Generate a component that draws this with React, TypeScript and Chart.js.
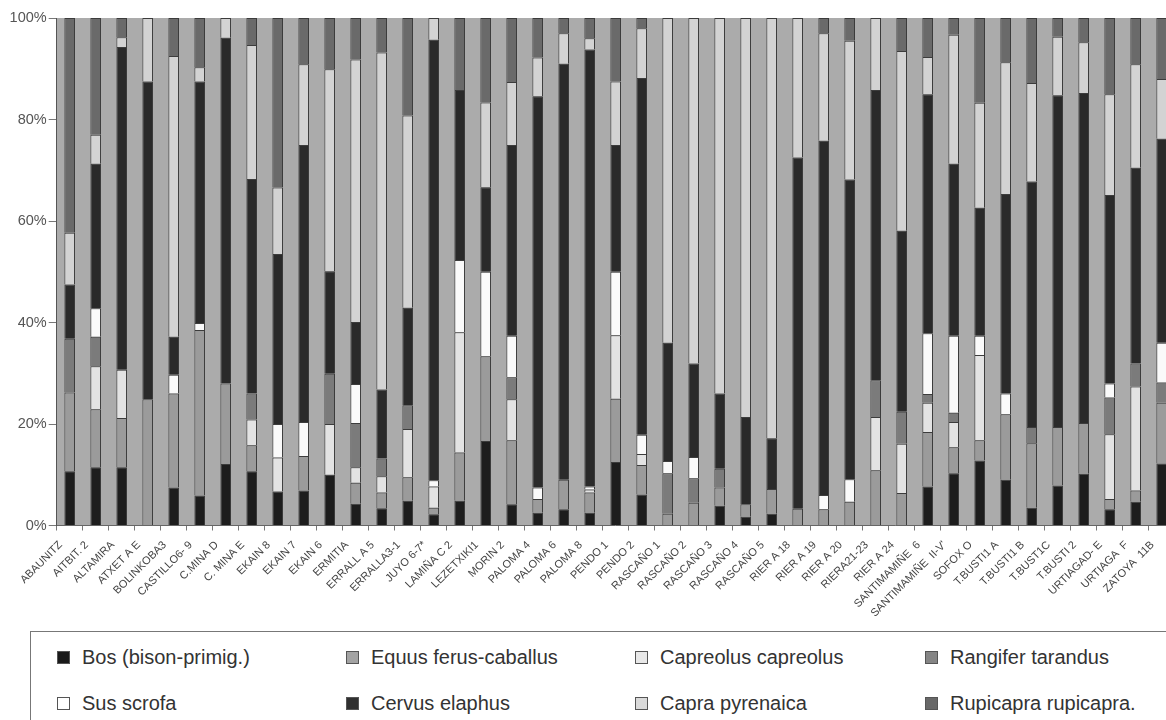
import { useEffect, useRef } from 'react';
import { Chart, registerables } from 'chart.js';

Chart.register(...registerables);

const FONT = "'Liberation Sans', Arial, Helvetica, sans-serif";

const categories = [
  'ABAUNITZ', 'AITBIT. 2', 'ALTAMIRA', 'ATXET A E', 'BOLINKOBA3', 'CASTILLO6- 9', 'C.MINA D', 'C. MINA E',
  'EKAIN 8', 'EKAIN 7', 'EKAIN 6', 'ERMITIA', 'ERRALL A 5', 'ERRALLA3-1', 'JUYO 6-7*', 'LAMIÑA C 2',
  'LEZETXIKI1', 'MORIN 2', 'PALOMA 4', 'PALOMA 6', 'PALOMA 8', 'PENDO 1', 'PENDO 2', 'RASCAÑO 1',
  'RASCAÑO 2', 'RASCAÑO 3', 'RASCAÑO 4', 'RASCAÑO 5', 'RIER A 18', 'RIER A 19', 'RIER A 20', 'RIERA21-23',
  'RIER A 24', 'SANTIMAMIÑE  6', "SANTIMAMIÑE  II-V'", 'SOFOX O', 'T.BUSTI1 A', 'T.BUSTI1 B', 'T.BUST1C',
  'T.BUSTI 2', 'URTIAGAD- E', 'URTIAGA  F', 'ZATOYA  11B',
];

const bos = [10.7, 11.5, 11.5, 0, 7.5, 5.9, 12.1, 10.7, 6.7, 6.9, 10.0, 4.3, 3.4, 4.9, 2.2, 4.9, 16.7, 4.2, 2.5, 3.2, 2.5, 12.5, 6.1, 0, 0, 3.9, 1.7, 2.3, 0, 0, 0, 0, 0, 7.7, 10.3, 12.8, 9.0, 3.5, 7.9, 10.2, 3.2, 4.7, 12.2];
const equus = [15.5, 11.4, 9.7, 24.9, 18.5, 32.6, 15.9, 5.1, 0, 6.8, 0, 4.1, 3.1, 4.6, 1.3, 9.5, 16.7, 12.6, 2.7, 5.8, 4.0, 12.5, 5.8, 2.3, 4.5, 3.6, 2.5, 4.9, 3.3, 3.2, 4.7, 10.9, 6.4, 10.7, 5.1, 4.0, 12.9, 12.7, 11.5, 10.0, 2.0, 2.2, 12.0];
const capreolus = [0, 8.5, 9.5, 0, 0, 0, 0, 5.1, 6.7, 0, 10.0, 3.1, 3.2, 9.5, 4.2, 23.7, 0, 8.1, 0, 0, 0.6, 12.5, 2.2, 0, 0, 0, 0, 0, 0, 0, 0, 10.5, 9.7, 5.8, 5.0, 16.8, 0, 0, 0, 0, 12.8, 20.5, 0];
const rangifer = [10.6, 5.8, 0, 0, 0, 0, 0, 5.1, 0, 0, 9.9, 8.7, 3.5, 4.7, 0, 0, 0, 4.3, 0, 0, 0, 0, 0, 8.0, 4.8, 3.7, 0, 0, 0, 0, 0, 7.2, 6.3, 1.7, 1.8, 0, 0, 3.2, 0, 0, 7.2, 4.5, 4.0];
const sus = [0, 5.6, 0, 0, 3.7, 1.4, 0, 0, 6.6, 6.7, 0, 7.7, 0, 0, 1.2, 14.2, 16.7, 8.2, 2.3, 0, 0.6, 12.5, 3.8, 2.4, 4.2, 0, 0, 0, 0, 2.8, 4.4, 0, 0, 12.0, 15.2, 3.8, 4.1, 0, 0, 0, 2.8, 0, 7.8];
const cervus = [10.7, 28.5, 63.6, 62.6, 7.5, 47.6, 68.1, 42.3, 33.5, 54.6, 20.2, 12.2, 13.6, 19.2, 86.8, 33.5, 16.7, 37.6, 77.1, 82.0, 86.0, 25.0, 70.3, 23.3, 18.4, 14.8, 17.2, 10.0, 69.2, 69.8, 59.1, 57.2, 35.7, 47.1, 33.9, 25.2, 39.3, 48.4, 65.4, 65.0, 37.1, 38.6, 40.2];
const capra = [10.2, 5.7, 1.9, 12.5, 55.3, 2.8, 3.9, 26.4, 13.1, 15.9, 39.8, 51.7, 66.4, 37.9, 4.3, 0, 16.7, 12.4, 7.6, 6.0, 2.2, 12.5, 9.8, 64.0, 68.1, 74.0, 78.6, 82.8, 27.5, 21.2, 27.3, 14.2, 35.4, 7.3, 25.4, 20.7, 26.0, 19.4, 11.5, 10.0, 19.9, 20.4, 11.8];
const rupicapra = [42.3, 23.0, 3.8, 0, 7.5, 9.7, 0, 5.3, 33.4, 9.1, 10.1, 8.2, 6.8, 19.2, 0, 14.2, 16.7, 12.6, 7.8, 3.0, 4.0, 12.5, 2.0, 0, 0, 0, 0, 0, 0, 3.0, 4.5, 0, 6.5, 7.7, 3.3, 16.7, 8.7, 12.8, 3.7, 4.8, 15.0, 9.1, 12.0];

const seriesNames = [
  'Bos (bison-primig.)', 'Equus ferus-caballus', 'Capreolus capreolus', 'Rangifer tarandus',
  'Sus scrofa', 'Cervus elaphus', 'Capra pyrenaica', 'Rupicapra rupicapra.',
];
const barColors = ['#1d1d1d', '#9b9b9b', '#e3e3e3', '#7b7b7b', '#fafafa', '#2a2a2a', '#d3d3d3', '#6a6a6a'];
const swatchColors = ['#1a1a1a', '#a3a3a3', '#e8e8e8', '#858585', '#ffffff', '#303030', '#dadada', '#686868'];
const yTickValues = [0, 20, 40, 60, 80, 100];

const legendCols = [57, 346, 635, 925];
const legendRows = [657, 703];

export default function App() {
  const ref = useRef<HTMLCanvasElement>(null);

  useEffect(() => {
    if (!ref.current) return;
    const raw = [bos, equus, capreolus, rangifer, sus, cervus, capra, rupicapra];
    const totals = categories.map((_, i) => raw.reduce((s, a) => s + a[i], 0));
    const datasets = raw.map((arr, k) => ({
      label: seriesNames[k],
      data: arr.map((v, i) => (v / totals[i]) * 100),
      backgroundColor: barColors[k],
      borderColor: '#3c3c3c',
      borderWidth: 1,
      barPercentage: 0.41,
      categoryPercentage: 1,
    }));

    const plotBg = {
      id: 'plotBg',
      beforeDraw(chart: any) {
        const { ctx, chartArea: a } = chart;
        ctx.save();
        ctx.fillStyle = '#ababab';
        ctx.fillRect(a.left, a.top, a.right - a.left, a.bottom - a.top);
        ctx.restore();
      },
    };

    const chart = new Chart(ref.current, {
      type: 'bar',
      data: { labels: categories, datasets },
      plugins: [plotBg],
      options: {
        animation: false,
        responsive: true,
        maintainAspectRatio: false,
        layout: { padding: { top: 18, left: 0, right: 0, bottom: 0 } },
        plugins: { legend: { display: false }, tooltip: { enabled: false } },
        scales: {
          x: {
            stacked: true,
            grid: { display: true, drawOnChartArea: false, drawTicks: true, tickLength: 5, color: '#777', offset: true },
            border: { display: true, color: '#666', width: 1 },
            ticks: {
              autoSkip: false,
              maxRotation: 45,
              minRotation: 45,
              color: '#444',
              padding: 8,
              labelOffset: -9,
              font: { family: FONT, size: 11 },
            },
            afterFit: (s: any) => { s.height = 100.5; },
          },
          y: {
            stacked: true,
            min: 0,
            max: 100,
            afterBuildTicks: (s: any) => { s.ticks = yTickValues.map((v) => ({ value: v })); },
            ticks: {
              color: '#555',
              padding: 2,
              font: { family: FONT, size: 14.5 },
              callback: (v: any) => `${v}%`,
            },
            grid: { display: true, drawOnChartArea: false, drawTicks: true, tickLength: 8, color: '#777' },
            border: { display: true, color: '#555', dash: [2, 1] },
            afterFit: (s: any) => { s.width = 56.7; },
          },
        },
      },
    });
    return () => chart.destroy();
  }, []);

  return (
    <div style={{ position: 'fixed', left: 0, top: 0, width: 1166, height: 720, overflow: 'hidden', background: '#fff', fontFamily: FONT }}>
      <div style={{ position: 'absolute', left: 0, top: 0, width: 1179, height: 626 }}>
        <canvas ref={ref} />
      </div>
      <div style={{ position: 'absolute', left: 30, top: 631, width: 1200, height: 160, border: '1px solid #777', boxSizing: 'border-box' }} />
      {seriesNames.map((name, k) => {
        const col = k % 4;
        const row = Math.floor(k / 4);
        const x = legendCols[col];
        const y = legendRows[row];
        return (
          <div key={name}>
            <div style={{ position: 'absolute', left: x, top: y - 6.5, width: 13, height: 13, background: swatchColors[k], border: '1px solid #555', boxSizing: 'border-box' }} />
            <div style={{ position: 'absolute', left: x + 25, top: y - 12, lineHeight: '24px', fontSize: 20, color: '#333', whiteSpace: 'nowrap' }}>{name}</div>
          </div>
        );
      })}
    </div>
  );
}
